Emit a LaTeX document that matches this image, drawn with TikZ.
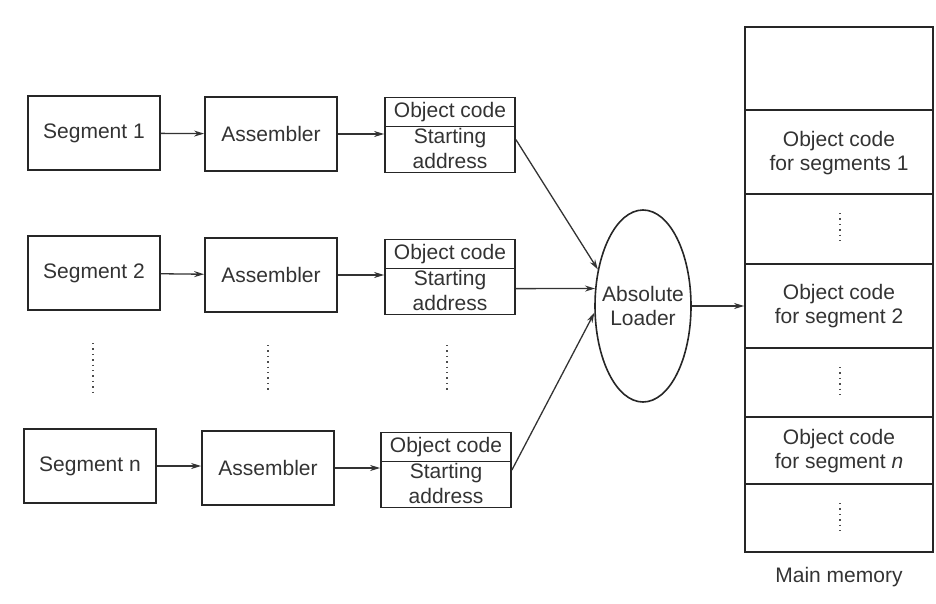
\documentclass[tikz,border=0pt]{standalone}
\usepackage{fontspec}
\setmainfont{Liberation Sans}
\usetikzlibrary{arrows.meta,shapes.geometric,calc}
\begin{document}
\begin{tikzpicture}[x=1pt,y=-1pt,
  font=\fontsize{21}{24}\selectfont,
  box/.style={draw=black!85,line width=1.8pt,minimum width=132pt,minimum height=74pt,inner sep=0pt,text=black!80},
  objbox/.style={draw=black!85,line width=1.8pt,minimum width=130pt,minimum height=75pt,inner sep=0pt},
  txt/.style={inner sep=0pt,text=black!80,align=center},
  arr/.style={draw=black!80,line width=1.3pt,-{Stealth[length=10pt,width=6pt]}},
  dots/.style={draw=black!70,line width=1.4pt,dash pattern=on 1.4pt off 4pt}
]
\useasboundingbox (0,0) rectangle (936,604);

% row 1
\node[box] (seg1) at (94,133) {Segment 1};
\node[box] (asm1) at (271,134) {Assembler};
\node[objbox] (obj1) at (450,135) {};
% row 2
\node[box] (seg2) at (94,273) {Segment 2};
\node[box] (asm2) at (271,275) {Assembler};
\node[objbox] (obj2) at (450,277) {};
% row n
\node[box] (segn) at (90,466) {Segment n};
\node[box] (asmn) at (268,468) {Assembler};
\node[objbox] (objn) at (446,470) {};

\foreach \o in {obj1,obj2,objn}{
  \draw[black!85,line width=1.6pt] ($(\o.north west)+(0,30)$) -- ($(\o.north east)+(0,30)$);
  \node[txt] (\o-a) at ($(\o.north)+(0,15)$) {Object code};
  \node[txt] (\o-b) at ($(\o.north)+(0,41)$) {Starting};
  \node[txt] (\o-c) at ($(\o.north)+(0,64)$) {address};
}

% vertical dots
\draw[dots] (93,343) -- (93,392);
\draw[dots] (268,345) -- (268,392);
\draw[dots] (447,345) -- (447,392);

% loader
\node[draw=black!85,line width=1.6pt,ellipse,minimum width=96pt,minimum height=192pt,inner sep=0pt] (loader) at (643,306) {};
\node[txt] (loadertxt) at (loader.center) {Absolute\\Loader};

% memory
\node[draw=black!85,line width=1.8pt,minimum width=188pt,minimum height=525pt,inner sep=0pt] (mem) at (839,289.5) {};
\foreach \y in {110,194,264,348,417,484}{
  \draw[black!85,line width=1.6pt] (mem.west |- 0,\y) -- (mem.east |- 0,\y);
}
\node[txt] (m1) at (839,153) {Object code\\for segments 1};
\node[txt] (m2) at (839,306) {Object code\\for segment 2};
\node[txt] (m3) at (839,451) {Object code\\for segment \textit{n}};
\draw[dots] (840,213) -- (840,245);
\draw[dots] (840,367) -- (840,398);
\draw[dots] (840,503) -- (840,535);
\node[txt] (mm) at (839,577) {Main memory};

% arrows
\draw[arr] (seg1) -- (asm1);
\draw[arr] (asm1) -- (asm1 -| obj1.west);
\draw[arr] (seg2) -- (asm2);
\draw[arr] (asm2) -- (asm2 -| obj2.west);
\draw[arr] (segn) -- (segn -| asmn.west);
\draw[arr] (asmn) -- (asmn -| objn.west);

\draw[arr] (obj1.-4) -- (loader.141);
\draw[arr] (obj2.-10) -- (loader.160);
\draw[arr] (objn.east) -- (loader.188);
\draw[arr] (loader.east) -- (loader.east -| mem.west);
\end{tikzpicture}
\end{document}
